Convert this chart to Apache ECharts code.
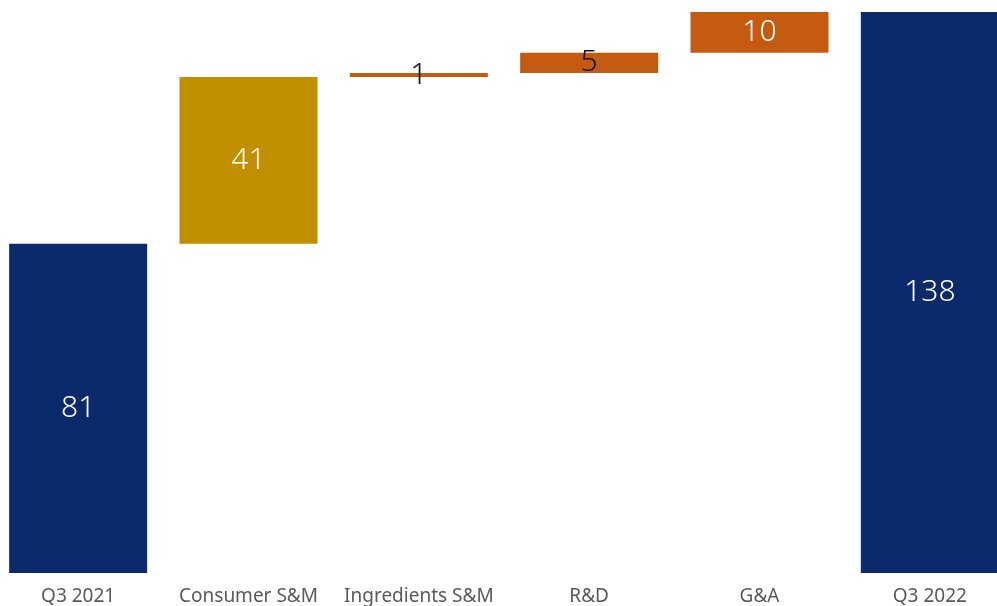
<!DOCTYPE html>
<html>
<head>
<meta charset="utf-8">
<script src="https://cdn.jsdelivr.net/npm/echarts@6/dist/echarts.min.js"></script>
<style>
  html, body { margin: 0; padding: 0; background: #fff; }
  #main { width: 997px; height: 606px; }
</style>
</head>
<body>
<div id="main"></div>
<script>
// data
var categories = ['Q3 2021', 'Consumer S&M', 'Ingredients S&M', 'R&D', 'G&A', 'Q3 2022'];
var values = [81, 41, 1, 5, 10, 138];
var isTotal = [true, false, false, false, false, true];

var NAVY = '#0b2a6b', GOLD = '#c09000', ORANGE = '#c55a11';
var stepColors = [NAVY, GOLD, ORANGE, ORANGE, ORANGE, NAVY];
var labelColors = ['#fff', '#fff', '#111', '#111', '#fff', '#fff'];

// invisible base under each step
var base = [];
var running = 0;
for (var i = 0; i < values.length; i++) {
  if (isTotal[i]) { base.push(0); running = values[i]; }
  else { base.push(running); running += values[i]; }
}

var stepData = values.map(function (v, i) {
  return {
    value: v,
    itemStyle: { color: stepColors[i] },
    label: { color: labelColors[i] }
  };
});

var chart = echarts.init(document.getElementById('main'));
chart.setOption({
  animation: false,
  grid: { left: -7, right: -18, top: 12, bottom: 33, containLabel: false, outerBoundsMode: 'none' },
  xAxis: {
    type: 'category',
    data: categories,
    axisLine: { show: false },
    axisTick: { show: false },
    axisLabel: { color: '#595959', fontSize: 19, fontFamily: 'Noto Sans', margin: 14, interval: 0 }
  },
  yAxis: {
    type: 'value', min: 0, max: 138, show: false,
    splitLine: { show: false }
  },
  series: [
    {
      type: 'bar', stack: 'w', barWidth: 138,
      itemStyle: { color: 'transparent' },
      silent: true,
      data: base
    },
    {
      type: 'bar', stack: 'w', barWidth: 138,
      label: {
        show: true, position: 'inside',
        fontSize: 30, fontFamily: 'Noto Sans', fontWeight: 300
      },
      data: stepData
    }
  ]
});
</script>
</body>
</html>
